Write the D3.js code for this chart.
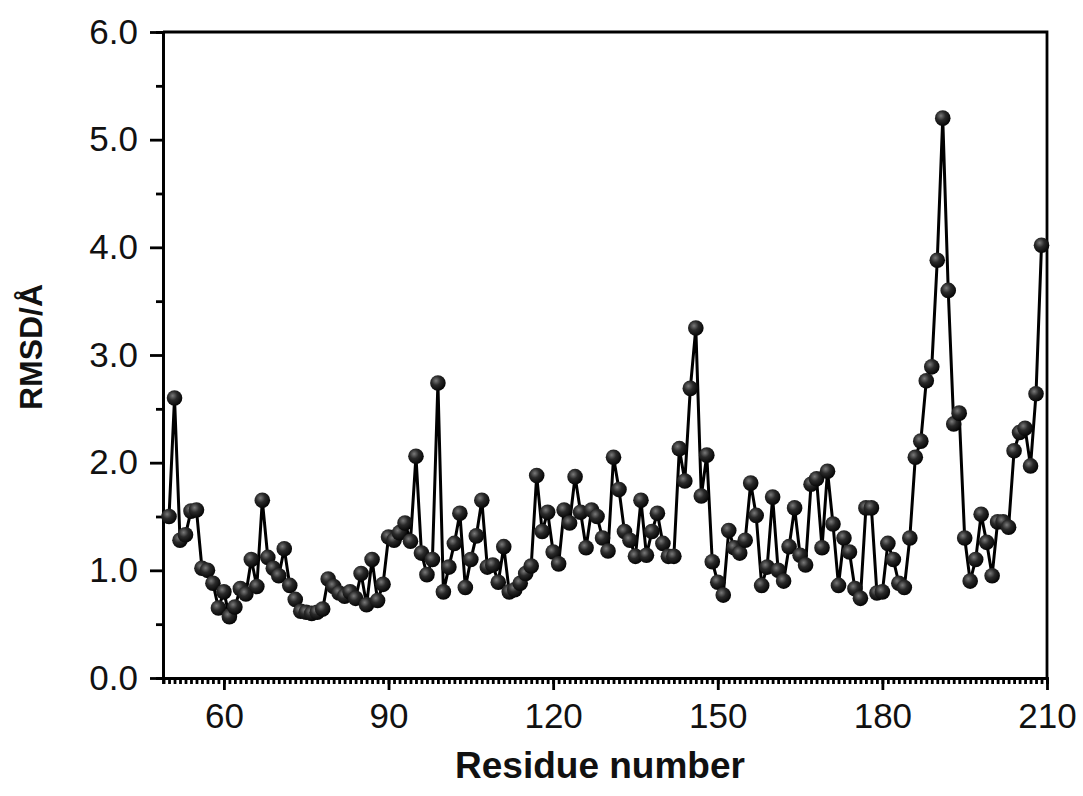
<!DOCTYPE html>
<html>
<head>
<meta charset="utf-8">
<script src="https://cdnjs.cloudflare.com/ajax/libs/d3/7.8.5/d3.min.js"></script>
<style>
    body { margin: 0; background: #fff; }
    .axis path, .axis line { stroke: #000; stroke-width: 2.8; }
    .axis text { font-family: "Liberation Sans", Arial, sans-serif; font-size: 35px; fill: #111; }
    .axis-title { font-family: "Liberation Sans", Arial, sans-serif; font-weight: bold; fill: #111; }
</style>
</head>
<body>
<div id="chart"></div>
<script>
// residue numbers and per-residue RMSD
var residues = d3.range(50, 210);
var rmsd = [
    1.50, 2.60, 1.28, 1.33, 1.55, 1.56, 1.02, 1.00, 0.88, 0.65,   // 50-59
    0.80, 0.57, 0.66, 0.83, 0.78, 1.10, 0.85, 1.65, 1.12, 1.02,   // 60-69
    0.95, 1.20, 0.86, 0.73, 0.62, 0.61, 0.60, 0.61, 0.64, 0.92,   // 70-79
    0.85, 0.79, 0.76, 0.80, 0.74, 0.97, 0.68, 1.10, 0.72, 0.87,   // 80-89
    1.31, 1.28, 1.35, 1.44, 1.27, 2.06, 1.16, 0.96, 1.10, 2.74,   // 90-99
    0.80, 1.03, 1.25, 1.53, 0.84, 1.10, 1.32, 1.65, 1.03, 1.05,   // 100-109
    0.89, 1.22, 0.80, 0.82, 0.88, 0.97, 1.04, 1.88, 1.36, 1.54,   // 110-119
    1.17, 1.06, 1.56, 1.44, 1.87, 1.54, 1.21, 1.56, 1.50, 1.30,   // 120-129
    1.18, 2.05, 1.75, 1.36, 1.28, 1.13, 1.65, 1.14, 1.36, 1.53,   // 130-139
    1.25, 1.13, 1.13, 2.13, 1.83, 2.69, 3.25, 1.69, 2.07, 1.08,   // 140-149
    0.89, 0.77, 1.37, 1.21, 1.16, 1.28, 1.81, 1.51, 0.86, 1.03,   // 150-159
    1.68, 1.00, 0.90, 1.22, 1.58, 1.14, 1.05, 1.80, 1.85, 1.21,   // 160-169
    1.92, 1.43, 0.86, 1.30, 1.17, 0.83, 0.74, 1.58, 1.58, 0.79,   // 170-179
    0.80, 1.25, 1.10, 0.88, 0.84, 1.30, 2.05, 2.20, 2.76, 2.89,   // 180-189
    3.88, 5.20, 3.60, 2.36, 2.46, 1.30, 0.90, 1.10, 1.52, 1.26,   // 190-199
    0.95, 1.45, 1.45, 1.40, 2.11, 2.28, 2.32, 1.97, 2.64, 4.02    // 200-209
];
var xTicks = [60, 90, 120, 150, 180, 210];
var yTicks = [0, 1, 2, 3, 4, 5, 6];
var xLabel = "Residue number";
var yLabel = "RMSD/Å";

var margin = { top: 32, right: 36, bottom: 118, left: 163 };
var width = 1083 - margin.left - margin.right,
    height = 796 - margin.top - margin.bottom;

var svg = d3.select("#chart").append("svg")
    .attr("width", 1083)
    .attr("height", 796);

var defs = svg.append("defs");
var grad = defs.append("radialGradient")
    .attr("id", "ball")
    .attr("cx", "38%").attr("cy", "35%").attr("r", "65%");
grad.append("stop").attr("offset", "0%").attr("stop-color", "#7a7a7a");
grad.append("stop").attr("offset", "45%").attr("stop-color", "#2a2a2a");
grad.append("stop").attr("offset", "100%").attr("stop-color", "#050505");

var g = svg.append("g")
    .attr("transform", "translate(" + margin.left + "," + margin.top + ")");

var x = d3.scaleLinear().domain([48.9, 210]).range([0, width]);
var y = d3.scaleLinear().domain([0, 6]).range([height, 0]);

// minor ticks first, majors drawn over them
g.append("g")
    .attr("class", "axis")
    .attr("transform", "translate(0," + height + ")")
    .call(d3.axisBottom(x).tickValues(d3.range(49, 211)).tickSize(6).tickFormat(""));

g.append("g")
    .attr("class", "axis")
    .call(d3.axisLeft(y).tickValues(d3.range(0.5, 6, 1)).tickSize(7).tickFormat(""));

g.append("g")
    .attr("class", "axis")
    .attr("transform", "translate(0," + height + ")")
    .call(d3.axisBottom(x).tickValues(xTicks).tickSize(12).tickPadding(13).tickSizeOuter(0));

g.append("g")
    .attr("class", "axis")
    .call(d3.axisLeft(y).tickValues(yTicks).tickFormat(d3.format(".1f")).tickSize(13).tickPadding(12).tickSizeOuter(0));

// box: top and right edges
g.append("path")
    .attr("d", "M0,0H" + width + "V" + height)
    .attr("fill", "none")
    .attr("stroke", "#000")
    .attr("stroke-width", 2.8);

var points = residues.map(function(r, i) { return { res: r, val: rmsd[i] }; });

var line = d3.line()
    .x(function(d) { return x(d.res); })
    .y(function(d) { return y(d.val); });

g.append("path")
    .datum(points)
    .attr("fill", "none")
    .attr("stroke", "#000")
    .attr("stroke-width", 3)
    .attr("d", line);

g.selectAll(".dot")
    .data(points)
    .enter()
    .append("circle")
    .attr("class", "dot")
    .attr("cx", function(d) { return x(d.res); })
    .attr("cy", function(d) { return y(d.val); })
    .attr("r", 7.8)
    .attr("fill", "url(#ball)");

svg.append("text")
    .attr("class", "axis-title")
    .attr("x", margin.left + width / 2 - 5)
    .attr("y", 778)
    .attr("text-anchor", "middle")
    .style("font-size", "37px")
    .text(xLabel);

svg.append("text")
    .attr("class", "axis-title")
    .attr("transform", "translate(42," + (margin.top + height / 2 - 8) + ") rotate(-90)")
    .attr("text-anchor", "middle")
    .style("font-size", "32px")
    .text(yLabel);
</script>
</body>
</html>
